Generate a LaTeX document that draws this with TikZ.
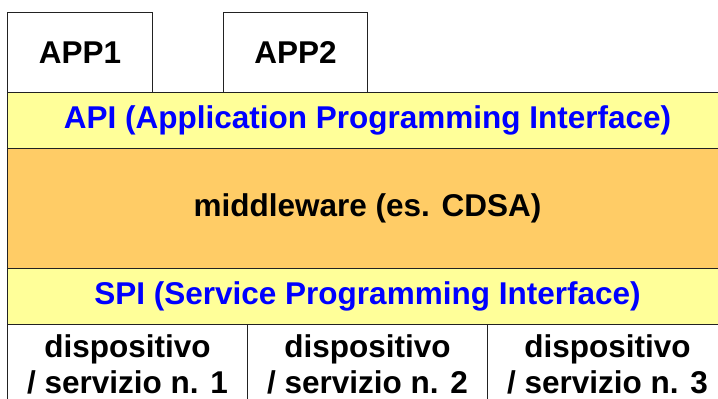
\documentclass[tikz,border=0pt]{standalone}
\usepackage{fontspec}
\setmainfont{Liberation Sans}
\definecolor{bandyellow}{HTML}{FFFF99}
\definecolor{bandorange}{HTML}{FFCC66}
\definecolor{edge}{HTML}{222222}
\definecolor{apiblue}{HTML}{0000FF}
\tikzset{
  cellbox/.style={draw=edge, line width=1pt, inner sep=0pt, anchor=north west,
    font=\fontsize{31.5}{36}\selectfont\bfseries, align=center},
}
\begin{document}
\begin{tikzpicture}[x=1pt,y=-1pt]
\clip (0,0) rectangle (718,399);
\fill[white] (0,0) rectangle (718,399);
\node[cellbox, fill=white, minimum width=145, minimum height=80] (app1) at (7,12) {APP1};
\node[cellbox, fill=white, minimum width=144, minimum height=80] (app2) at (223,12) {APP2};
\node[cellbox, fill=bandyellow, text=apiblue, minimum width=720, minimum height=56] (api) at (7,92) {API (Application Programming Interface)};
\node[cellbox, fill=bandorange, minimum width=720, minimum height=120] (mw) at (7,148) {middleware (es. CDSA)};
\node[cellbox, fill=bandyellow, text=apiblue, minimum width=720, minimum height=56] (spi) at (7,268) {SPI (Service Programming Interface)};
\node[cellbox, fill=white, minimum width=240, minimum height=80] (d1) at (7,324) {dispositivo\\/ servizio n. 1};
\node[cellbox, fill=white, minimum width=240, minimum height=80] (d2) at (247,324) {dispositivo\\/ servizio n. 2};
\node[cellbox, fill=white, minimum width=240, minimum height=80] (d3) at (487,324) {dispositivo\\/ servizio n. 3};
\end{tikzpicture}
\end{document}
